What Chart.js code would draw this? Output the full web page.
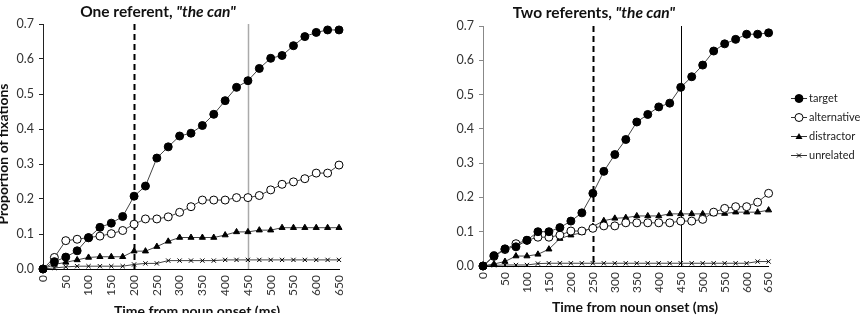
<!DOCTYPE html>
<html>
<head>
<meta charset="utf-8">
<script src="https://cdn.jsdelivr.net/npm/chart.js@4.4.1/dist/chart.umd.min.js"></script>
<style>
  body { margin: 0; background: #fff; }
  #wrap { position: relative; width: 865px; height: 326px; overflow: hidden; font-family: Lato, "Open Sans", sans-serif; }
  canvas.chart { position: absolute; top: 0; }
  .title { position: absolute; font-weight: bold; font-size: 15.5px; color: #111; white-space: nowrap; transform: translateX(-50%); }
  .xtitle { position: absolute; font-weight: bold; font-size: 14px; color: #111; white-space: nowrap; transform: translateX(-50%); }
  .ytitle { position: absolute; font-weight: bold; font-size: 14px; color: #111; white-space: nowrap; transform: translate(-50%, -50%) rotate(-90deg); }
  #legend { position: absolute; left: 791px; top: 88px; font-size: 11px; color: #222; }
  #legend div { height: 19px; display: flex; align-items: center; }
  #legend canvas { margin-right: 2px; }
</style>
</head>
<body>
<div id="wrap">
  <canvas id="c1" class="chart" style="left:0px"></canvas>
  <canvas id="c2" class="chart" style="left:440px"></canvas>
  <div class="title" style="left:158px; top:2px">One referent, <i>"the can"</i></div>
  <div class="title" style="left:594px; top:3px">Two referents, <i>"the can"</i></div>
  <div style="position:absolute; left:0; top:0; width:430px; height:313px; overflow:hidden">
    <div class="xtitle" style="left:197px; top:302px">Time from noun onset (ms)</div>
  </div>
  <div class="xtitle" style="left:635px; top:298px">Time from noun onset (ms)</div>
  <div class="ytitle" style="left:2px; top:154px">Proportion of fixations</div>
  <div id="legend"></div>
</div>
<script>
// time bins (ms)
const times = [0, 25, 50, 75, 100, 125, 150, 175, 200, 225, 250, 275, 300, 325, 350,
               375, 400, 425, 450, 475, 500, 525, 550, 575, 600, 625, 650];
const xTickValues = [0, 50, 100, 150, 200, 250, 300, 350, 400, 450, 500, 550, 600, 650];
const yTickValues = [0, 0.1, 0.2, 0.3, 0.4, 0.5, 0.6, 0.7];
const seriesNames = ["target", "alternative", "distractor", "unrelated"];

// One referent
const targetOne = [0, 0.021, 0.034, 0.052, 0.089, 0.119, 0.131, 0.150, 0.208, 0.237, 0.317, 0.349, 0.380, 0.388,
                   0.410, 0.442, 0.481, 0.519, 0.538, 0.573, 0.602, 0.610, 0.638, 0.664, 0.676, 0.683, 0.683];
const altOne = [0, 0.033, 0.081, 0.085, 0.090, 0.094, 0.101, 0.110, 0.128, 0.143, 0.143, 0.149, 0.162, 0.178,
                0.197, 0.197, 0.197, 0.204, 0.204, 0.210, 0.226, 0.242, 0.249, 0.258, 0.274, 0.274, 0.297];
const distOne = [0, 0.013, 0.019, 0.026, 0.033, 0.035, 0.035, 0.035, 0.051, 0.051, 0.064, 0.079, 0.090, 0.090,
                 0.090, 0.090, 0.097, 0.106, 0.106, 0.111, 0.111, 0.118, 0.118, 0.118, 0.118, 0.118, 0.118];
const unrOne = [0, 0.003, 0.006, 0.008, 0.008, 0.008, 0.008, 0.008, 0.013, 0.016, 0.016, 0.024, 0.024, 0.024,
                0.024, 0.024, 0.026, 0.026, 0.026, 0.026, 0.026, 0.026, 0.026, 0.026, 0.026, 0.026, 0.026];

// Two referents
const targetTwo = [0, 0.030, 0.050, 0.056, 0.075, 0.100, 0.100, 0.112, 0.131, 0.155, 0.212, 0.276, 0.325, 0.369,
                   0.420, 0.442, 0.464, 0.475, 0.521, 0.552, 0.586, 0.627, 0.648, 0.661, 0.676, 0.676, 0.680];
const altTwo = [0, 0.028, 0.048, 0.065, 0.075, 0.084, 0.084, 0.090, 0.102, 0.102, 0.110, 0.117, 0.117, 0.126,
                0.126, 0.126, 0.126, 0.126, 0.131, 0.131, 0.136, 0.157, 0.168, 0.173, 0.173, 0.186, 0.212];
const distTwo = [0, 0.006, 0.013, 0.029, 0.029, 0.034, 0.049, 0.080, 0.090, 0.097, 0.115, 0.132, 0.139, 0.141,
                 0.146, 0.146, 0.146, 0.152, 0.152, 0.152, 0.152, 0.152, 0.153, 0.157, 0.157, 0.157, 0.163];
const unrTwo = [0, 0.002, 0.003, 0.003, 0.003, 0.007, 0.008, 0.008, 0.008, 0.008, 0.008, 0.008, 0.008, 0.008,
                0.008, 0.008, 0.008, 0.008, 0.008, 0.008, 0.008, 0.008, 0.008, 0.008, 0.008, 0.013, 0.013];

// marker look per series
const markers = [
  { pointStyle: "circle", radius: 4, fill: "#000" },
  { pointStyle: "circle", radius: 4, fill: "#fff" },
  { pointStyle: "triangle", radius: 3.5, fill: "#000" },
  { pointStyle: "crossRot", radius: 3, fill: "#000" }
];

function makeDatasets(lists) {
  return lists.map((vals, i) => ({
    label: seriesNames[i],
    data: vals.map((v, k) => ({ x: times[k], y: v })),
    borderColor: "#444",
    borderWidth: 1,
    pointStyle: markers[i].pointStyle,
    pointRadius: markers[i].radius,
    pointBackgroundColor: markers[i].fill,
    pointBorderColor: "#000",
    pointBorderWidth: 1,
    tension: 0,
    clip: false
  }));
}

// vertical reference lines drawn through the x scale
const refLines = {
  id: "refLines",
  beforeDatasetsDraw(chart, args, opts) {
    const ctx = chart.ctx;
    const area = chart.chartArea;
    const xs = chart.scales.x;
    (opts.lines || []).forEach(l => {
      const px = Math.round(xs.getPixelForValue(l.x)) + 0.5;
      ctx.save();
      ctx.strokeStyle = l.color;
      ctx.lineWidth = l.width;
      ctx.setLineDash(l.dash);
      ctx.beginPath();
      ctx.moveTo(px, area.top);
      ctx.lineTo(px, area.bottom);
      ctx.stroke();
      ctx.restore();
    });
  }
};

function makeChart(id, width, lists, yWidth, xHeight, pad, lines, yAxisColor) {
  const canvas = document.getElementById(id);
  canvas.width = width;
  canvas.height = 326;
  canvas.style.width = width + "px";
  canvas.style.height = "326px";
  return new Chart(canvas, {
    type: "line",
    data: { datasets: makeDatasets(lists) },
    plugins: [refLines],
    options: {
      responsive: false,
      animation: false,
      layout: { padding: pad },
      plugins: {
        legend: { display: false },
        tooltip: { enabled: false },
        refLines: { lines: lines }
      },
      scales: {
        x: {
          type: "linear",
          min: 0,
          max: 650,
          afterBuildTicks: s => { s.ticks = xTickValues.map(v => ({ value: v })); },
          afterFit: s => { s.height = xHeight; },
          grid: { display: false, drawOnChartArea: false, drawTicks: true, tickLength: 4, color: "#000" },
          border: { color: "#000", width: 1 },
          ticks: {
            autoSkip: false,
            minRotation: 90,
            maxRotation: 90,
            padding: 2,
            color: "#333",
            font: { family: "Lato", size: 12 }
          }
        },
        y: {
          min: 0,
          max: 0.7,
          afterBuildTicks: s => { s.ticks = yTickValues.map(v => ({ value: v })); },
          afterFit: s => { s.width = yWidth; },
          grid: { drawOnChartArea: false, drawTicks: true, tickLength: 4, color: yAxisColor },
          border: { color: yAxisColor, width: 1 },
          ticks: {
            padding: 5,
            color: "#333",
            font: { family: "Lato", size: 12.5 },
            callback: v => v.toFixed(1)
          }
        }
      }
    }
  });
}

makeChart("c1", 360, [targetOne, altOne, distOne, unrOne], 43, 57,
  { top: 24, right: 21, bottom: 0, left: 0 },
  [{ x: 200, color: "#000", width: 2, dash: [6, 4] }, { x: 450, color: "#aaa", width: 1.5, dash: [] }],
  "#222");

makeChart("c2", 345, [targetTwo, altTwo, distTwo, unrTwo], 43, 60,
  { top: 26, right: 14, bottom: 0, left: 0 },
  [{ x: 250, color: "#000", width: 2, dash: [6, 4] }, { x: 450, color: "#000", width: 1, dash: [] }],
  "#888");

// legend: short line with the series marker, then the name
const legend = document.getElementById("legend");
seriesNames.forEach((name, i) => {
  const row = document.createElement("div");
  const ic = document.createElement("canvas");
  ic.width = 16; ic.height = 12;
  const g = ic.getContext("2d");
  g.strokeStyle = "#333"; g.lineWidth = 1;
  g.beginPath(); g.moveTo(0, 6.5); g.lineTo(16, 6.5); g.stroke();
  g.fillStyle = markers[i].fill; g.strokeStyle = "#000";
  const r = markers[i].radius;
  g.beginPath();
  if (markers[i].pointStyle === "circle") {
    g.arc(8, 6.5, r, 0, Math.PI * 2); g.fill(); g.stroke();
  } else if (markers[i].pointStyle === "triangle") {
    g.moveTo(8, 6.5 - r); g.lineTo(8 + r, 6.5 + r * 0.7); g.lineTo(8 - r, 6.5 + r * 0.7); g.closePath(); g.fill();
  } else {
    g.moveTo(8 - r * 0.7, 6.5 - r * 0.7); g.lineTo(8 + r * 0.7, 6.5 + r * 0.7);
    g.moveTo(8 + r * 0.7, 6.5 - r * 0.7); g.lineTo(8 - r * 0.7, 6.5 + r * 0.7); g.stroke();
  }
  row.appendChild(ic);
  row.appendChild(document.createTextNode(name));
  legend.appendChild(row);
});
</script>
</body>
</html>
